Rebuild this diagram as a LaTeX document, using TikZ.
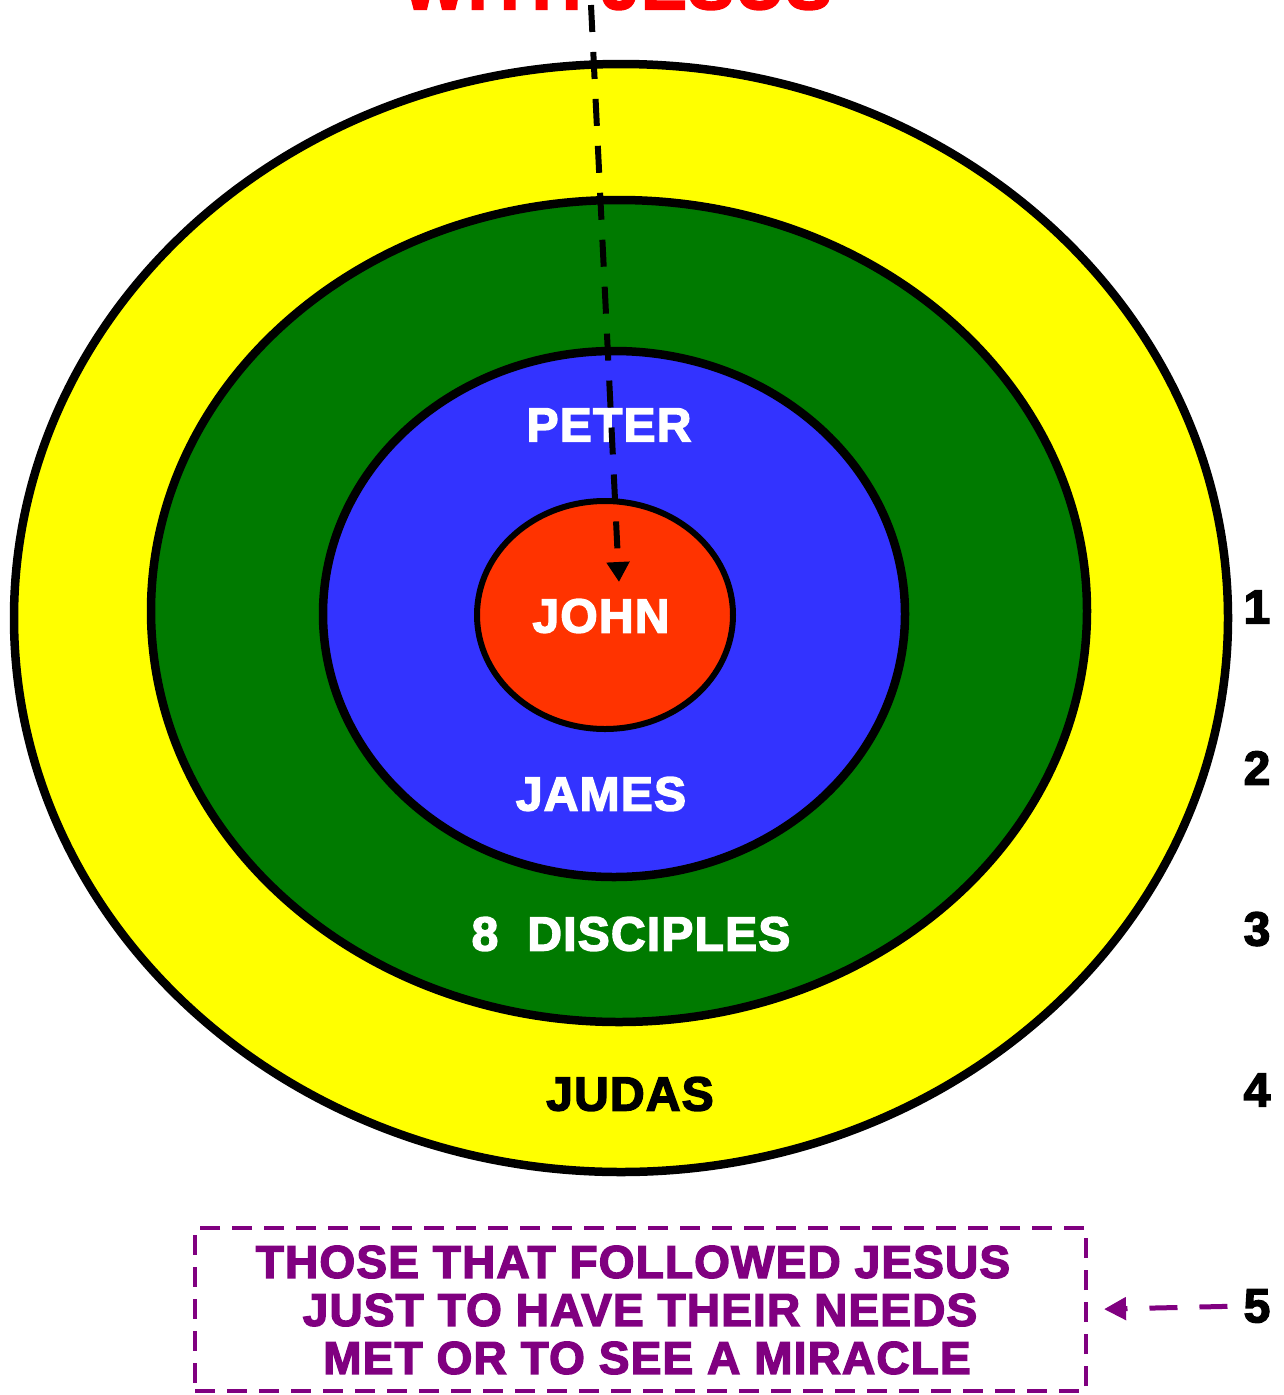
\documentclass[tikz,border=0pt]{standalone}
\usepackage{fontspec}
\setmainfont{Liberation Sans}
\newfontfamily\lab{Liberation Sans Bold}[FakeBold=3,LetterSpace=2.5]
\usetikzlibrary{shapes.geometric,arrows.meta}
\definecolor{ringyellow}{HTML}{FFFF00}
\definecolor{ringgreen}{HTML}{007A00}
\definecolor{ringblue}{HTML}{3333FF}
\definecolor{ringred}{HTML}{FF3300}
\definecolor{boxpurple}{HTML}{800080}
\definecolor{titlered}{HTML}{FF0000}
\begin{document}
\begin{tikzpicture}[x=1pt,y=-1pt,
  ring/.style={ellipse, draw=black, line width=8.5pt, inner sep=0pt},
  lbl/.style={font=\lab\fontsize{48}{56}\selectfont, inner sep=0pt, anchor=center},
  numlbl/.style={lbl, text=black},
  boxtxt/.style={lbl, font=\lab\fontsize{46}{54}\selectfont, text=boxpurple}]
\clip (0,0) rectangle (1284,1395);
\fill[white] (0,0) rectangle (1284,1395);
% title (cut off at top, as in the reference)
\node[font=\lab\fontsize{68}{72}\selectfont, text=titlered, inner sep=0pt, anchor=base] (title) at (617,9) {WITH JESUS};
% rings
\node[ring, fill=ringyellow, minimum width=1214pt, minimum height=1108pt] (outer) at (621,618) {};
\node[ring, fill=ringgreen, minimum width=936pt, minimum height=822pt] (green) at (619,611) {};
\node[ring, fill=ringblue, minimum width=582pt, minimum height=526pt] (blue) at (614,614) {};
\node[ring, fill=ringred, line width=6pt, minimum width=256pt, minimum height=228pt] (red) at (605,615) {};
% labels
\node[lbl, text=white] (peter) at (609,425) {PETER};
\node[lbl, text=white] (john) at (601,616) {JOHN};
\node[lbl, text=white] (james) at (601,794) {JAMES};
\node[lbl, text=white] (eight) at (631,934) {8\ \ DISCIPLES};
\node[lbl, text=black] (judas) at (630,1094) {JUDAS};
% numbers
\node[numlbl] (n1) at (1257,607) {1};
\node[numlbl] (n2) at (1257,768) {2};
\node[numlbl] (n3) at (1257,929) {3};
\node[numlbl] (n4) at (1257,1090) {4};
\node[numlbl] (n5) at (1257,1306) {5};
% dashed box
\node[draw=boxpurple, line width=4pt, dash pattern=on 20pt off 12pt, inner sep=0pt,
      minimum width=891pt, minimum height=163pt] (box) at (640.5,1309.5) {};
\node[boxtxt] (l1) at (633,1262) {THOSE THAT FOLLOWED JESUS};
\node[boxtxt] (l2) at (640,1310) {JUST TO HAVE THEIR NEEDS};
\node[boxtxt] (l3) at (647,1358) {MET OR TO SEE A MIRACLE};
% connectors
\coordinate (topstart) at (591,5);
\coordinate (johntip) at (619,582);
\draw[line width=6pt, dash pattern=on 27pt off 20pt, -{Triangle[length=20pt,width=22pt]}] (topstart) -- (johntip);
\draw[boxpurple, line width=5pt, dash pattern=on 28pt off 22pt, shorten <=16pt, shorten >=16pt,
      -{Triangle[length=22pt,width=22pt]}] (n5.west) -- (box.east);
\end{tikzpicture}
\end{document}
